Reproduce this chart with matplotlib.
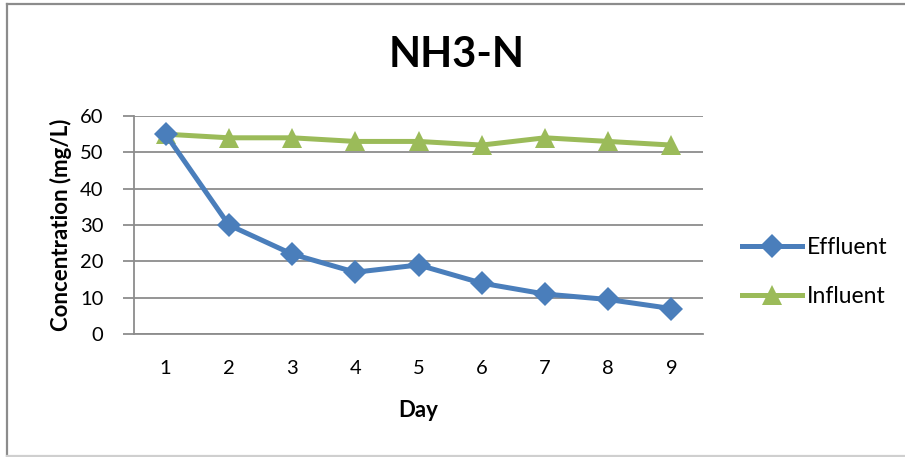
import matplotlib
matplotlib.use("Agg")
import matplotlib.pyplot as plt
from matplotlib.lines import Line2D

plt.rcParams['font.family'] = ['Lato', 'DejaVu Sans']

days = [1, 2, 3, 4, 5, 6, 7, 8, 9]
effluent = [55, 30, 22, 17, 19, 14, 11, 9.5, 7]
influent = [55, 54, 54, 53, 53, 52, 54, 53, 52]
y_ticks = [0, 10, 20, 30, 40, 50, 60]

W, H = 905, 457
fig = plt.figure(figsize=(W / 100, H / 100), dpi=100)

# chart frame
frame_col = '#8c8c8c'
fig.add_artist(Line2D([7 / W, 7 / W], [1 - 4 / H, 1 - 456 / H], color=frame_col, lw=1.6,
                      transform=fig.transFigure))
fig.add_artist(Line2D([7 / W, 1.0], [1 - 4 / H, 1 - 4 / H], color=frame_col, lw=1.6,
                      transform=fig.transFigure))
fig.add_artist(Line2D([7 / W, 1.0], [1 - 456 / H, 1 - 456 / H], color='#cfcfcf', lw=1.6,
                      transform=fig.transFigure))

left, right, top, bottom = 134, 703, 116, 334
ax = fig.add_axes([left / W, 1 - bottom / H, (right - left) / W, (bottom - top) / H])

blue = '#4a7ebb'
green = '#9bbb59'
grid_col = '#8c8c8c'
lw = 3.6
d_size, t_size = 12, 15

ax.plot(days, influent, color=green, lw=lw, marker='^', markersize=t_size,
        markeredgewidth=0, label='Influent', zorder=3)
ax.plot(days, effluent, color=blue, lw=lw, marker='D', markersize=d_size,
        markeredgewidth=0, label='Effluent', zorder=4)

ax.set_xlim(0.5, 9.5)
ax.set_ylim(0, 60)
ax.set_yticks(y_ticks)
ax.set_xticks(days)
ax.set_xticklabels([str(d) for d in days])
ax.yaxis.grid(True, color=grid_col, lw=1.3)
ax.set_axisbelow(True)
for s in ['top', 'right']:
    ax.spines[s].set_visible(False)
ax.spines['left'].set_color(grid_col)
ax.spines['bottom'].set_color(grid_col)
ax.spines['left'].set_linewidth(1.3)
ax.spines['bottom'].set_linewidth(1.3)
ax.tick_params(axis='y', length=8, width=1.3, color=grid_col, labelsize=14.5, pad=14)
ax.tick_params(axis='x', length=0, labelsize=14.5, pad=19)

ax.set_xlabel('Day', fontsize=16, fontweight='bold', labelpad=16)
ax.set_ylabel('Concentration (mg/L)', fontsize=16, fontweight='bold', labelpad=6)

fig.text(457 / W, 1 - 55 / H, 'NH3-N', fontsize=30, fontweight='bold',
         ha='center', va='center')

handles = [Line2D([], [], color=blue, lw=lw, marker='D', markersize=d_size, markeredgewidth=0),
           Line2D([], [], color=green, lw=lw, marker='^', markersize=t_size, markeredgewidth=0)]
fig.legend(handles, ['Effluent', 'Influent'], loc='center left',
           bbox_to_anchor=(731 / W, 1 - 272 / H), frameon=False, fontsize=16.5,
           handlelength=2.6, handletextpad=0.2, labelspacing=1.25, borderpad=0)

fig.savefig('out.png', dpi=100)
